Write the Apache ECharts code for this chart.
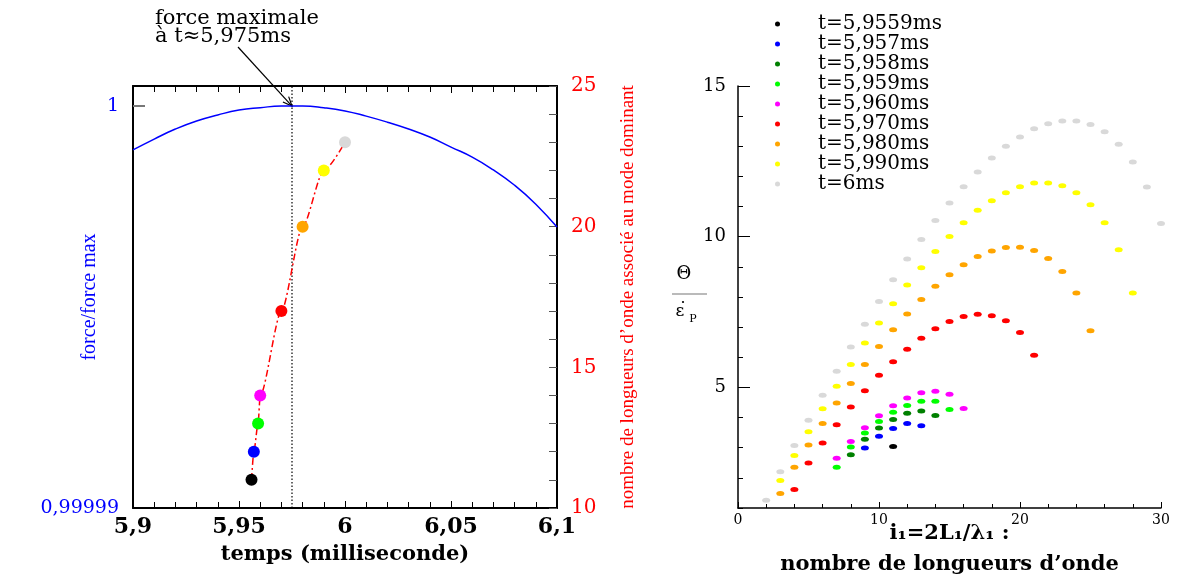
<!DOCTYPE html>
<html>
<head>
<meta charset="utf-8">
<script src="https://cdn.jsdelivr.net/npm/echarts@6/dist/echarts.min.js"></script>
<style>
  html, body { margin: 0; background: #fff; }
  #chart { width: 1177px; height: 577px; }
</style>
</head>
<body>
<div id="chart"></div>
<script>
// left panel: force ratio over time (blue)
const forceTime = [5.90, 5.91, 5.92, 5.93, 5.94, 5.95, 5.96, 5.97, 5.98, 5.99, 6.00,
  6.01, 6.02, 6.03, 6.04, 6.05, 6.06, 6.07, 6.08, 6.09, 6.10]
const forceRatio = [0.99999891, 0.99999918, 0.99999943, 0.99999963, 0.99999978, 0.99999990,
  0.99999996, 1.00000000, 1.00000000, 0.99999996, 0.99999988, 0.99999975, 0.99999960,
  0.99999943, 0.99999923, 0.99999898, 0.99999873, 0.99999841, 0.99999803, 0.99999756,
  0.99999699]
const forceMaxTime = 5.975

// left panel: dominant mode number over time (red axis)
const modeTime = [5.9559, 5.957, 5.959, 5.960, 5.970, 5.980, 5.990, 6.000]
const modeNumber = [11, 12, 13, 14, 17, 20, 22, 23]
const modeColors = ['#000000', '#0000ff', '#00ff00', '#ff00ff', '#ff0000', '#ffa500', '#ffff00', '#d9d9d9']

// right panel: theta / eps-dot vs wave count i1
const seriesNames = ['t=5,9559ms', 't=5,957ms', 't=5,958ms', 't=5,959ms', 't=5,960ms',
  't=5,970ms', 't=5,980ms', 't=5,990ms', 't=6ms']
const seriesColors = ['#000000', '#0000ff', '#008000', '#00ff00', '#ff00ff',
  '#ff0000', '#ffa500', '#ffff00', '#d9d9d9']

const pts5959 = [[11, 3.04]]
const pts5957 = [[9, 2.99], [10, 3.38], [11, 3.64], [12, 3.80], [13, 3.73]]
const pts5958 = [[8, 2.77], [9, 3.28], [10, 3.65], [11, 3.94], [12, 4.14], [13, 4.22], [14, 4.07]]
const ptsLime = [[7, 2.35], [8, 3.02], [9, 3.49], [10, 3.87], [11, 4.18], [12, 4.40], [13, 4.54],
  [14, 4.54], [15, 4.27]]
const pts5960 = [[7, 2.65], [8, 3.21], [9, 3.66], [10, 4.06], [11, 4.39], [12, 4.65], [13, 4.82],
  [14, 4.87], [15, 4.77], [16, 4.30]]
const pts5970 = [[4, 1.61], [5, 2.49], [6, 3.16], [7, 3.76], [8, 4.35], [9, 4.89], [10, 5.40],
  [11, 5.85], [12, 6.27], [13, 6.63], [14, 6.95], [15, 7.19], [16, 7.35], [17, 7.43], [18, 7.38],
  [19, 7.21], [20, 6.82], [21, 6.07]]
const pts5980 = [[3, 1.48], [4, 2.35], [5, 3.09], [6, 3.80], [7, 4.48], [8, 5.13], [9, 5.76],
  [10, 6.36], [11, 6.91], [12, 7.44], [13, 7.92], [14, 8.36], [15, 8.74], [16, 9.07], [17, 9.34],
  [18, 9.53], [19, 9.64], [20, 9.65], [21, 9.54], [22, 9.28], [23, 8.85], [24, 8.13], [25, 6.88]]
const pts5990 = [[3, 1.91], [4, 2.74], [5, 3.53], [6, 4.29], [7, 5.04], [8, 5.76], [9, 6.47],
  [10, 7.14], [11, 7.78], [12, 8.40], [13, 8.97], [14, 9.51], [15, 10.01], [16, 10.46], [17, 10.88],
  [18, 11.19], [19, 11.46], [20, 11.66], [21, 11.78], [22, 11.78], [23, 11.69], [24, 11.46],
  [25, 11.06], [26, 10.46], [27, 9.57], [28, 8.13]]
const pts6000 = [[2, 1.26], [3, 2.20], [4, 3.07], [5, 3.91], [6, 4.74], [7, 5.54], [8, 6.34],
  [9, 7.10], [10, 7.85], [11, 8.57], [12, 9.26], [13, 9.91], [14, 10.54], [15, 11.12], [16, 11.66],
  [17, 12.15], [18, 12.61], [19, 13.00], [20, 13.31], [21, 13.58], [22, 13.75], [23, 13.84],
  [24, 13.84], [25, 13.72], [26, 13.48], [27, 13.07], [28, 12.48], [29, 11.65], [30, 10.44]]
const seriesPoints = [pts5959, pts5957, pts5958, ptsLime, pts5960, pts5970, pts5980, pts5990, pts6000]

const SERIF = 'DejaVu Serif'
const NARROW = 'Liberation Serif'
const ellipse = 'path://M0,5A5,5,0,1,1,10,5A5,5,0,1,1,0,5Z'

const chart = echarts.init(document.getElementById('chart'))

const fmtTime = (v) => String(+v.toFixed(2)).replace('.', ',')

const rightSeries = seriesNames.map((name, k) => ({
  name,
  type: 'scatter',
  xAxisIndex: 2,
  yAxisIndex: 2,
  symbol: ellipse,
  symbolSize: [8, 5],
  itemStyle: { color: seriesColors[k], opacity: 1 },
  data: seriesPoints[k],
  silent: true,
}))

const option = {
  animation: false,
  backgroundColor: '#fff',
  grid: [
    { left: 133, right: 620, top: 86, bottom: 69, outerBoundsMode: 'none' },
    { left: 738, right: 16, top: 86, bottom: 69, outerBoundsMode: 'none' },
  ],
  legend: {
    data: seriesNames.map((n, k) => ({
      name: n, icon: ellipse, itemStyle: { color: seriesColors[k], opacity: 1 },
    })),
    orient: 'vertical',
    left: 770,
    top: 9,
    itemWidth: 7,
    itemHeight: 5,
    itemGap: 0,
    selectedMode: false,
    textStyle: {
      fontFamily: SERIF,
      fontSize: 20,
      lineHeight: 20,
      color: '#000',
      padding: [0, 0, 0, 32],
    },
  },
  xAxis: [
    {
      gridIndex: 0,
      type: 'value',
      min: 5.9,
      max: 6.1,
      interval: 0.05,
      name: 'temps (milliseconde)',
      nameLocation: 'middle',
      nameGap: 36,
      nameMoveOverlap: false,
      nameTextStyle: { fontFamily: SERIF, fontWeight: 'bold', fontSize: 21, color: '#000' },
      axisLine: { lineStyle: { color: '#000', width: 2 } },
      axisTick: { inside: true, length: 7, lineStyle: { color: '#000' } },
      minorTick: { show: true, splitNumber: 5, length: 6, lineStyle: { color: '#000' } },
      axisLabel: {
        formatter: fmtTime,
        fontFamily: SERIF,
        fontWeight: 'bold',
        fontSize: 22,
        color: '#000',
        margin: 8,
      },
      splitLine: { show: false },
    },
    {
      gridIndex: 0,
      type: 'value',
      position: 'top',
      min: 5.9,
      max: 6.1,
      interval: 0.05,
      axisLine: { lineStyle: { color: '#000', width: 2 } },
      axisTick: { inside: true, length: 7, lineStyle: { color: '#000' } },
      minorTick: { show: true, splitNumber: 5, length: 6, lineStyle: { color: '#000' } },
      axisLabel: { show: false },
      splitLine: { show: false },
    },
    {
      gridIndex: 1,
      type: 'value',
      min: 0,
      max: 30,
      interval: 10,
      name: 'i\u2081=2L\u2081/\u03bb\u2081 :\nnombre de longueurs d\u2019onde',
      nameLocation: 'middle',
      nameGap: 10,
      nameMoveOverlap: false,
      nameTextStyle: {
        fontFamily: SERIF, fontWeight: 'bold', fontSize: 21, color: '#000',
        lineHeight: 31, verticalAlign: 'top',
      },
      axisLine: { lineStyle: { color: '#000', width: 1.5 } },
      axisTick: { inside: true, length: 6, lineStyle: { color: '#000' } },
      minorTick: { show: true, splitNumber: 5, length: 4, lineStyle: { color: '#000' } },
      axisLabel: { fontFamily: SERIF, fontSize: 14, color: '#000', margin: 5 },
      splitLine: { show: false },
    },
  ],
  yAxis: [
    {
      gridIndex: 0,
      type: 'value',
      min: 0.99999,
      max: 1.0000005,
      name: 'force/force max',
      nameLocation: 'middle',
      nameRotate: 90,
      nameGap: 33,
      nameMoveOverlap: false,
      nameTextStyle: { fontFamily: NARROW, fontSize: 20, color: '#0000ff' },
      axisLine: { lineStyle: { color: '#000', width: 2 } },
      axisTick: { inside: true, length: 12, customValues: [1], lineStyle: { color: '#777', width: 2 } },
      axisLabel: {
        customValues: [0.99999, 1],
        formatter: (v) => (v > 0.999995 ? '1' : '0,99999'),
        fontFamily: SERIF,
        fontSize: 19,
        color: '#0000ff',
        margin: 14,
      },
      splitLine: { show: false },
    },
    {
      gridIndex: 0,
      type: 'value',
      position: 'right',
      min: 10,
      max: 25,
      interval: 5,
      name: 'nombre de longueurs d\u2019onde associ\u00e9 au mode dominant',
      nameLocation: 'middle',
      nameRotate: 90,
      nameGap: 62,
      nameMoveOverlap: false,
      nameTextStyle: { fontFamily: NARROW, fontSize: 19, color: '#ff0000' },
      axisLine: { lineStyle: { color: '#000', width: 2 } },
      axisTick: { inside: true, length: 8, lineStyle: { color: '#555' } },
      minorTick: { show: true, splitNumber: 5, length: 8, lineStyle: { color: '#555' } },
      axisLabel: { fontFamily: SERIF, fontSize: 20, color: '#ff0000', margin: 14 },
      splitLine: { show: false },
    },
    {
      gridIndex: 1,
      type: 'value',
      position: 'left',
      min: 1,
      max: 15,
      interval: 1,
      axisLine: { lineStyle: { color: '#000', width: 1.5 } },
      axisTick: { inside: true, length: 5, lineStyle: { color: '#000' } },
      axisLabel: {
        customValues: [5, 10, 15],
        fontFamily: SERIF,
        fontSize: 18,
        color: '#000',
        margin: 12,
      },
      splitLine: { show: false },
    },
    {
      gridIndex: 1,
      type: 'value',
      position: 'left',
      min: 1,
      max: 15,
      axisLine: { show: false },
      axisTick: { inside: true, length: 12, customValues: [5, 10, 15], lineStyle: { color: '#000' } },
      axisLabel: { show: false },
      splitLine: { show: false },
    },
  ],
  series: [
    {
      type: 'line',
      xAxisIndex: 0,
      yAxisIndex: 0,
      smooth: true,
      showSymbol: false,
      silent: true,
      lineStyle: { color: '#0000ff', width: 1.5 },
      data: forceTime.map((t, i) => [t, forceRatio[i]]),
    },
    {
      // dotted marker at the force maximum
      type: 'line',
      xAxisIndex: 0,
      yAxisIndex: 0,
      showSymbol: false,
      silent: true,
      lineStyle: { color: '#000', type: [1.5, 2], width: 1.2 },
      data: [[forceMaxTime, 0.99999], [forceMaxTime, 1.0000005]],
    },
    {
      type: 'line',
      xAxisIndex: 0,
      yAxisIndex: 1,
      smooth: 0.25,
      smoothMonotone: 'x',
      symbol: 'circle',
      symbolSize: 12,
      silent: true,
      lineStyle: { color: '#ff0000', width: 1.5, type: [7, 3, 2, 3] },
      data: modeTime.map((t, i) => ({
        value: [t, modeNumber[i]], itemStyle: { color: modeColors[i], opacity: 1 },
      })),
    },
    ...rightSeries,
  ],
}

chart.setOption(option)

// annotation arrow pointing at the force maximum
const tip = chart.convertToPixel({ xAxisIndex: 0, yAxisIndex: 0 }, [forceMaxTime, 1])
const start = [238, 47]
const ang = Math.atan2(tip[1] - start[1], tip[0] - start[0])
const head = 10
const wing = (s) => [tip[0] - head * Math.cos(ang + s), tip[1] - head * Math.sin(ang + s)]

chart.setOption({
  graphic: [
    {
      type: 'text',
      left: 155,
      top: 8,
      style: {
        text: 'force maximale\n\u00e0 t\u22485,975ms',
        font: '21px "DejaVu Serif"',
        lineHeight: 18,
        fill: '#000',
      },
    },
    {
      type: 'line',
      shape: { x1: start[0], y1: start[1], x2: tip[0], y2: tip[1] },
      style: { stroke: '#000', lineWidth: 1.2 },
    },
    {
      type: 'polyline',
      shape: { points: [wing(0.4), tip, wing(-0.4)] },
      style: { stroke: '#000', lineWidth: 1.2, fill: null },
    },
    // right panel y label: theta over eps-dot_P
    {
      type: 'text',
      style: {
        x: 684, y: 274, text: '\u0398', font: '18px "DejaVu Serif"', fill: '#000',
        textAlign: 'center', textVerticalAlign: 'middle',
      },
    },
    {
      type: 'line',
      shape: { x1: 672, y1: 294, x2: 707, y2: 294 },
      style: { stroke: '#777', lineWidth: 1.2 },
    },
    {
      type: 'text',
      style: {
        x: 680, y: 312, text: '\u03b5', font: '17px "DejaVu Serif"', fill: '#000',
        textAlign: 'center', textVerticalAlign: 'middle',
      },
    },
    {
      type: 'circle',
      shape: { cx: 683, cy: 302, r: 1.1 },
      style: { fill: '#000' },
    },
    {
      type: 'text',
      style: {
        x: 693, y: 319, text: 'P', font: '11px "DejaVu Serif"', fill: '#000',
        textAlign: 'center', textVerticalAlign: 'middle',
      },
    },
  ],
})
</script>
</body>
</html>
